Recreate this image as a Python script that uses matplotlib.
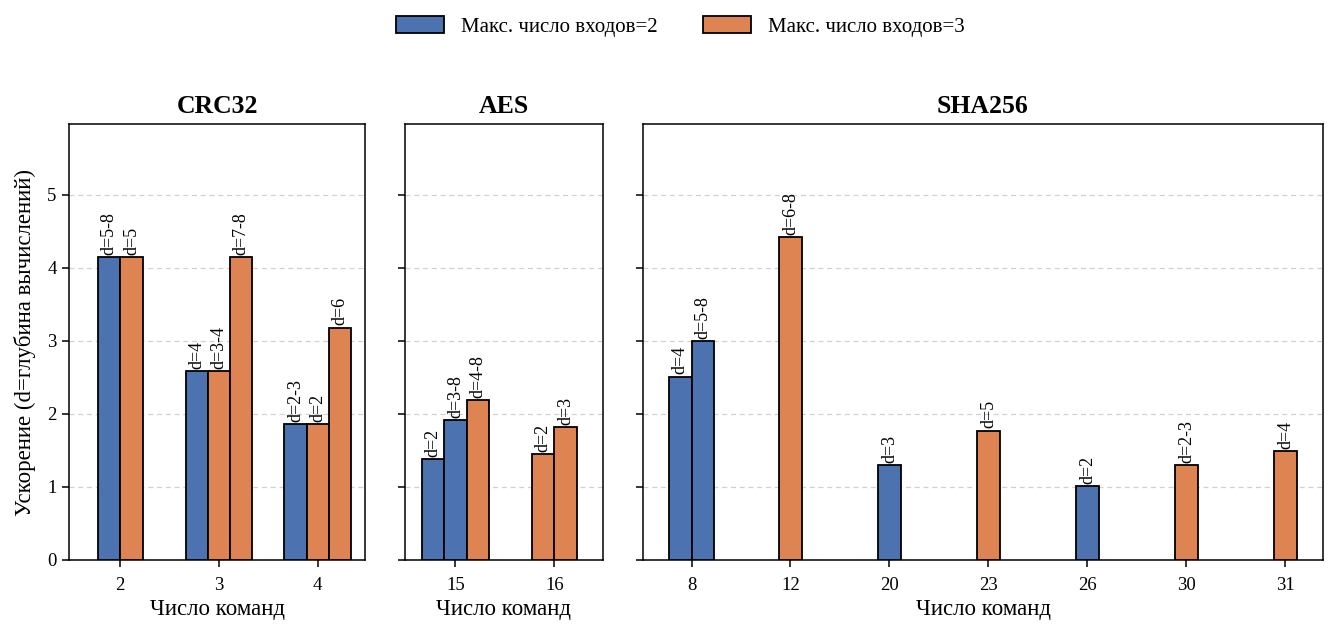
import matplotlib
matplotlib.use("Agg")
import matplotlib.pyplot as plt
from matplotlib.patches import Patch

plt.rcParams['font.family'] = ['Liberation Serif', 'DejaVu Serif']

BLUE = '#4C72B0'
ORANGE = '#DD8452'

# Panel data
crc_cats = ['2', '3', '4']
crc_bars = [
    [(2, 4.15, 'd=5-8'), (3, 4.15, 'd=5')],
    [(2, 2.58, 'd=4'), (3, 2.58, 'd=3-4'), (3, 4.15, 'd=7-8')],
    [(2, 1.86, 'd=2-3'), (3, 1.86, 'd=2'), (3, 3.18, 'd=6')],
]
aes_cats = ['15', '16']
aes_bars = [
    [(2, 1.38, 'd=2'), (2, 1.92, 'd=3-8'), (3, 2.19, 'd=4-8')],
    [(3, 1.45, 'd=2'), (3, 1.82, 'd=3')],
]
sha_cats = ['8', '12', '20', '23', '26', '30', '31']
sha_bars = [
    [(2, 2.51, 'd=4'), (2, 3.00, 'd=5-8')],
    [(3, 4.42, 'd=6-8')],
    [(2, 1.30, 'd=3')],
    [(3, 1.77, 'd=5')],
    [(2, 1.01, 'd=2')],
    [(3, 1.30, 'd=2-3')],
    [(3, 1.49, 'd=4')],
]

titles = ['CRC32', 'AES', 'SHA256']
legend_labels = ['Макс. число входов=2', 'Макс. число входов=3']
xlabel = 'Число команд'
ylabel = 'Ускорение (d=глубина вычислений)'

W, H = 1339, 626
fig = plt.figure(figsize=(W / 100, H / 100), dpi=100)

top_px, bot_px = 124, 560
panels_px = [(69, 365), (405, 603), (643, 1323)]
xlims = [(-0.52, 2.48), (-0.51, 1.49), (-0.49, 6.38)]
ymax = 4.42 * 1.35
width = 0.225

axes = []
for i, ((l, r), cats, groups, title, xl) in enumerate(zip(
        panels_px, [crc_cats, aes_cats, sha_cats],
        [crc_bars, aes_bars, sha_bars], titles, xlims)):
    ax = fig.add_axes([l / W, 1 - bot_px / H, (r - l) / W, (bot_px - top_px) / H])
    axes.append(ax)
    for ci, group in enumerate(groups):
        n = len(group)
        for bi, (k, v, lab) in enumerate(group):
            x = ci + (bi - (n - 1) / 2) * width
            color = BLUE if k == 2 else ORANGE
            ax.bar(x, v, width=width, color=color, edgecolor='black',
                   linewidth=1.3, zorder=3)
            ax.text(x, v + 0.03, lab, rotation=90, ha='center', va='bottom',
                    fontsize=13, zorder=4)
    ax.set_xlim(*xl)
    ax.set_ylim(0, ymax)
    ax.set_xticks(range(len(cats)))
    ax.set_xticklabels(cats)
    ax.set_yticks([0, 1, 2, 3, 4, 5])
    ax.yaxis.grid(True, linestyle=(0, (4, 3)), color='#d0d0d0', linewidth=0.9, zorder=0)
    ax.set_axisbelow(True)
    ax.tick_params(axis='both', labelsize=13.5, length=5, width=1.1, pad=4)
    ax.tick_params(axis='x', pad=7)
    ax.set_title(title, fontsize=18.5, fontweight='bold', pad=8)
    ax.set_xlabel(xlabel, fontsize=16.5, labelpad=4)
    for s in ax.spines.values():
        s.set_linewidth(1.1)
    if i == 0:
        ax.set_ylabel(ylabel, fontsize=16.5, labelpad=8)
    else:
        ax.set_yticklabels([])

handles = [Patch(facecolor=BLUE, edgecolor='black', linewidth=1.3),
           Patch(facecolor=ORANGE, edgecolor='black', linewidth=1.3)]
fig.legend(handles, legend_labels, loc='center', bbox_to_anchor=(0.508, 0.958),
           ncol=2, frameon=False, fontsize=15, handlelength=2.3,
           handleheight=0.9, handletextpad=0.8, columnspacing=2.2)

fig.savefig('out.png', dpi=100)
